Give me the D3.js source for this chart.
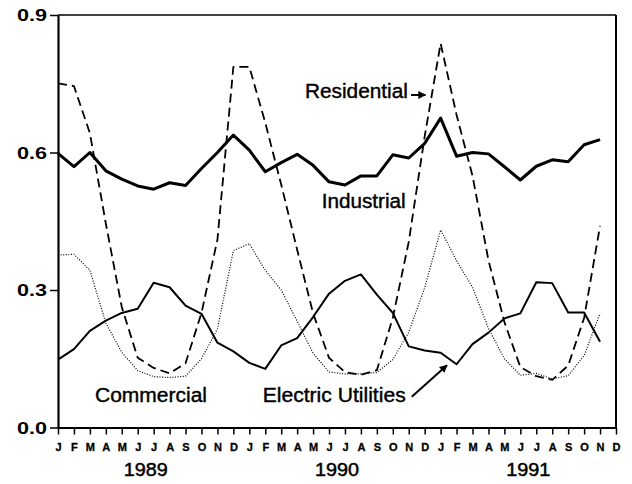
<!DOCTYPE html>
<html>
<head>
<meta charset="utf-8">
<script src="https://cdn.jsdelivr.net/npm/d3@7"></script>
<style>
  html, body { margin: 0; padding: 0; background: #fff; }
  svg { display: block; font-family: "Liberation Sans", Arial, Helvetica, sans-serif; }
</style>
</head>
<body>
<svg id="chart" width="632" height="484"></svg>
<script>
// ---- data (monthly, Jan 1989 .. Nov 1991) ----
const monthLetters = ["J","F","M","A","M","J","J","A","S","O","N","D"];
const years = ["1989","1990","1991"];
const yTicks = [0.0, 0.3, 0.6, 0.9];

const residential = [0.751,0.745,0.642,0.445,0.263,0.152,0.130,0.118,0.140,0.250,0.410,0.787,
                     0.787,0.665,0.530,0.388,0.249,0.152,0.121,0.115,0.125,0.239,0.405,0.635,
                     0.838,0.682,0.549,0.365,0.230,0.132,0.112,0.104,0.135,0.239,0.440];
const industrial  = [0.598,0.569,0.600,0.560,0.542,0.527,0.520,0.534,0.528,0.565,0.600,0.638,
                     0.605,0.558,0.578,0.596,0.572,0.536,0.529,0.549,0.549,0.595,0.588,0.620,
                     0.675,0.592,0.600,0.597,0.569,0.540,0.570,0.584,0.580,0.617,0.628];
const commercial  = [0.376,0.378,0.343,0.228,0.164,0.124,0.111,0.109,0.112,0.150,0.215,0.386,
                     0.401,0.343,0.300,0.232,0.162,0.121,0.117,0.117,0.120,0.148,0.208,0.305,
                     0.431,0.364,0.306,0.216,0.150,0.114,0.118,0.106,0.113,0.157,0.249];
const electric    = [0.148,0.171,0.211,0.233,0.250,0.259,0.316,0.306,0.266,0.248,0.185,0.166,
                     0.141,0.128,0.179,0.195,0.241,0.292,0.320,0.334,0.290,0.250,0.177,0.168,
                     0.163,0.138,0.182,0.207,0.238,0.249,0.317,0.315,0.251,0.251,0.187];

// annotation positions in data units (month index, value)
const labels = [
  {text: "Residential",        m: 15.49, v: 0.719, len: 103},
  {text: "Industrial",         m: 16.54, v: 0.478, len: 84},
  {text: "Commercial",         m: 2.32,  v: 0.056, len: 112},
  {text: "Electric Utilities", m: 12.84, v: 0.056, len: 143}
];
const arrows = [
  {m0: 22.14, v0: 0.7255, m1: 23.05, v1: 0.7255},
  {m0: 22.19, v0: 0.067,  m1: 24.40, v1: 0.136}
];

(function () {
// ---- layout ----
const svg = d3.select("#chart");
const mLeft = 58, mRight = 616, mTop = 15, mBottom = 427.5;
const nMonths = monthLetters.length * years.length;

const x = d3.scaleLinear().domain([0, nMonths - 1]).range([mLeft, mRight]);
const y = d3.scaleLinear().domain([0, 0.9]).range([mBottom, mTop]);

// frame
svg.append("line").attr("x1", mLeft).attr("x2", mRight).attr("y1", mTop).attr("y2", mTop)
  .attr("stroke", "#000").attr("stroke-width", 1.6);
svg.append("line").attr("x1", mRight).attr("x2", mRight).attr("y1", mTop).attr("y2", mBottom)
  .attr("stroke", "#000").attr("stroke-width", 2);

// x axis
const monthIdx = d3.range(nMonths);
const xAxis = d3.axisBottom(x).tickValues(monthIdx).tickSize(7).tickSizeOuter(0)
  .tickFormat(i => monthLetters[i % 12]);
const gx = svg.append("g").attr("transform", `translate(0,${mBottom})`).call(xAxis);
gx.select(".domain").attr("stroke", "#000").attr("stroke-width", 2);
gx.selectAll(".tick line").attr("stroke", "#000").attr("stroke-width", 1.5);
gx.selectAll(".tick text").attr("font-size", 11).attr("font-weight", "bold")
  .attr("font-family", "'Liberation Sans', Arial, sans-serif").attr("fill", "#000")
  .attr("stroke", "#000").attr("stroke-width", 0.3)
  .attr("y", 23.5).attr("dy", 0);

// year labels
svg.append("g").selectAll("text").data(years).join("text")
  .attr("x", (d, k) => x(5.5 + 12 * k))
  .attr("y", 476)
  .attr("text-anchor", "middle")
  .attr("font-size", 19)
  .attr("fill", "#000")
  .attr("stroke", "#000").attr("stroke-width", 0.5)
  .attr("textLength", 44).attr("lengthAdjust", "spacingAndGlyphs")
  .text(d => d);

// y axis
const yAxis = d3.axisLeft(y).tickValues(yTicks).tickSize(8).tickSizeOuter(0)
  .tickFormat(d3.format(".1f"));
const gy = svg.append("g").attr("transform", `translate(${mLeft},0)`).call(yAxis);
gy.select(".domain").attr("stroke", "#000").attr("stroke-width", 2.2);
gy.selectAll(".tick line").attr("stroke", "#000").attr("stroke-width", 1.5);
gy.selectAll(".tick text").attr("font-size", 16).attr("font-weight", "bold")
  .attr("font-family", "'Liberation Sans', Arial, sans-serif").attr("fill", "#000")
  .attr("x", -11).attr("dy", "0.36em")
  .attr("textLength", 30).attr("lengthAdjust", "spacingAndGlyphs");

// series
const line = d3.line().x((d, i) => x(i)).y(d => y(d));
const series = [
  {data: residential, width: 1.8, dash: "9,5"},
  {data: commercial,  width: 1.2, dash: "1,1.6"},
  {data: electric,    width: 2.0, dash: null},
  {data: industrial,  width: 3.0, dash: null}
];
svg.append("g").selectAll("path").data(series).join("path")
  .attr("d", s => line(s.data))
  .attr("fill", "none")
  .attr("stroke", "#000")
  .attr("stroke-width", s => s.width)
  .attr("stroke-linejoin", "round")
  .attr("stroke-dasharray", s => s.dash);

// labels
svg.append("g").selectAll("text").data(labels).join("text")
  .attr("x", d => x(d.m)).attr("y", d => y(d.v))
  .attr("font-size", 20)
  .attr("fill", "#000")
  .attr("stroke", "#000").attr("stroke-width", 0.4)
  .attr("textLength", d => d.len).attr("lengthAdjust", "spacingAndGlyphs")
  .text(d => d.text);

// arrows
const defs = svg.append("defs");
defs.append("marker").attr("id", "ah").attr("viewBox", "0 0 10 10")
  .attr("refX", 9).attr("refY", 5).attr("markerWidth", 4).attr("markerHeight", 4)
  .attr("orient", "auto").attr("markerUnits", "strokeWidth")
  .append("path").attr("d", "M0,0 L10,5 L0,10 Z").attr("fill", "#000");
svg.append("g").selectAll("line").data(arrows).join("line")
  .attr("x1", d => x(d.m0)).attr("y1", d => y(d.v0))
  .attr("x2", d => x(d.m1)).attr("y2", d => y(d.v1))
  .attr("stroke", "#000").attr("stroke-width", 2)
  .attr("marker-end", "url(#ah)");
})();
</script>
</body>
</html>
